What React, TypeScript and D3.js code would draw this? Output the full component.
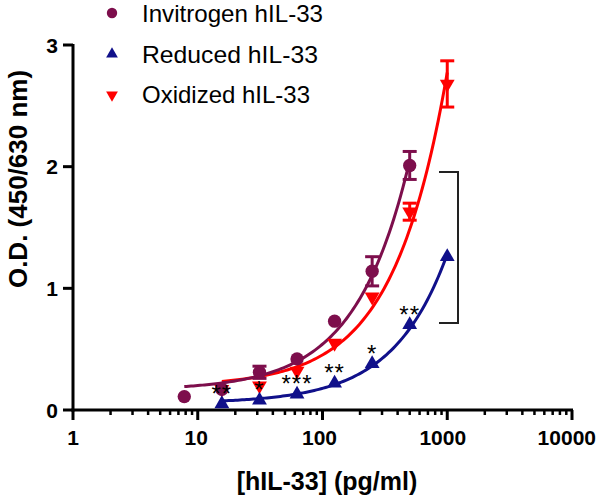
import React from "react";
import * as d3 from "d3";

const W = 598, H = 501;

const invX = [7.8, 15.6, 31.25, 62.5, 125, 250, 500];
const invY = [0.11, 0.17, 0.31, 0.42, 0.73, 1.14, 2.01];
const invErr = [0, 0, 0.05, 0, 0, 0.12, 0.115];

const redX = [15.6, 31.25, 62.5, 125, 250, 500, 1000];
const redY = [0.05, 0.08, 0.13, 0.22, 0.38, 0.70, 1.26];
const redErr = [0, 0, 0, 0, 0, 0, 0];

const oxX = [15.6, 31.25, 62.5, 125, 250, 500, 1000];
const oxY = [0.17, 0.20, 0.32, 0.55, 0.93, 1.63, 2.68];
const oxErr = [0, 0, 0, 0, 0, 0.07, 0.19];

const stars = ["**", "*", "***", "**", "*", "**", ""];

const xTicks = [1, 10, 100, 1000, 10000];
const yTicks = [0, 1, 2, 3];

const legendLabels = ["Invitrogen hIL-33", "Reduced hIL-33", "Oxidized hIL-33"];

const C_INV = "#7d0e4c";
const C_RED = "#10108a";
const C_OX = "#ff0000";

function fit(xs: number[], ys: number[]) {
  const n = xs.length;
  const mx = d3.mean(xs)!, my = d3.mean(ys)!;
  let sxy = 0, sxx = 0;
  for (let i = 0; i < n; i++) {
    sxy += (xs[i] - mx) * (ys[i] - my);
    sxx += (xs[i] - mx) ** 2;
  }
  const b = sxy / sxx;
  const a = my - b * mx;
  return (x: number) => a + b * x;
}

export default function App() {
  const x = d3.scaleLog().domain([1, 10000]).range([73, 572]);
  const y = d3.scaleLinear().domain([0, 3]).range([410, 45]);
  const font = "Arial, 'Liberation Sans', sans-serif";

  const curve = (xs: number[], ys: number[]) => {
    const f = fit(xs, ys);
    const l0 = Math.log10(xs[0]), l1 = Math.log10(xs[xs.length - 1]);
    const pts = d3.range(0, 101).map((i) => {
      const xv = Math.pow(10, l0 + ((l1 - l0) * i) / 100);
      return [x(xv), y(f(xv))] as [number, number];
    });
    return d3.line()(pts) as string;
  };

  const circ = d3.symbol().type(d3.symbolCircle).size(140)()!;
  const tri = d3.symbol().type(d3.symbolTriangle).size(95)()!;
  const circL = d3.symbol().type(d3.symbolCircle).size(85)()!;
  const triL = d3.symbol().type(d3.symbolTriangle).size(60)()!;

  const minor: number[] = [];
  for (let dec = 1; dec < 10000; dec *= 10)
    for (let k = 2; k <= 9; k++) minor.push(dec * k);

  const errBars = (xs: number[], ys: number[], es: number[], color: string) =>
    xs.map((xv, i) =>
      es[i] > 0 ? (
        <g key={i} stroke={color} strokeWidth={3}>
          <line x1={x(xv)} x2={x(xv)} y1={y(ys[i] - es[i])} y2={y(ys[i] + es[i])} />
          <line x1={x(xv) - 7} x2={x(xv) + 7} y1={y(ys[i] + es[i])} y2={y(ys[i] + es[i])} />
          <line x1={x(xv) - 7} x2={x(xv) + 7} y1={y(ys[i] - es[i])} y2={y(ys[i] - es[i])} />
        </g>
      ) : null
    );

  const legendWidths = [181, 176, 168];
  const legendSym = [
    { d: circL, c: C_INV, rot: 0 },
    { d: triL, c: C_RED, rot: 0 },
    { d: triL, c: C_OX, rot: 180 },
  ];

  return (
    <svg width={W} height={H} style={{ position: "absolute", left: 0, top: 0, background: "#fff" }}>
      {/* axes */}
      <g stroke="#000" strokeWidth={3} fill="none">
        <line x1={73} x2={73} y1={44} y2={411.5} />
        <line x1={71.5} x2={573} y1={410} y2={410} />
        {yTicks.map((t) => (
          <line key={t} x1={63} x2={73} y1={y(t)} y2={y(t)} />
        ))}
        {xTicks.map((t) => (
          <line key={t} x1={x(t)} x2={x(t)} y1={410} y2={420} />
        ))}
        {minor.map((t) => (
          <line key={t} x1={x(t)} x2={x(t)} y1={410} y2={415} strokeWidth={2.5} />
        ))}
      </g>
      <g fontFamily={font} fontWeight="bold" fontSize={21} fill="#000">
        {yTicks.map((t) => (
          <text key={t} x={58} y={y(t) + 7.5} textAnchor="end">{t}</text>
        ))}
        {xTicks.map((t) =>
          t === 10000 ? (
            <text key={t} x={596} y={445} textAnchor="end">{t}</text>
          ) : (
            <text key={t} x={x(t) - (String(t).length - 1) * 1.5} y={445} textAnchor="middle">
              {t}
            </text>
          )
        )}
      </g>
      <text x={327} y={490} textAnchor="middle" fontFamily={font} fontWeight="bold" fontSize={25}>
        [hIL-33] (pg/ml)
      </text>
      <text
        transform="translate(27,179) rotate(-90)"
        textAnchor="middle"
        fontFamily={font}
        fontWeight="bold"
        fontSize={26}
      >
        O.D. (450/630 nm)
      </text>

      {/* bracket */}
      <path d="M439,172 H458 V323 H439" fill="none" stroke="#222" strokeWidth={2} />

      {/* curves */}
      <g fill="none" strokeWidth={3}>
        <path d={curve(oxX, oxY)} stroke={C_OX} />
        <path d={curve(invX, invY)} stroke={C_INV} />
        <path d={curve(redX, redY)} stroke={C_RED} />
      </g>

      {errBars(oxX, oxY, oxErr, C_OX)}
      {oxX.map((xv, i) => (
        <path key={"o" + i} d={tri} transform={`translate(${x(xv)},${y(oxY[i])}) rotate(180)`} fill={C_OX} />
      ))}
      {errBars(invX, invY, invErr, C_INV)}
      {invX.map((xv, i) => (
        <path key={"i" + i} d={circ} transform={`translate(${x(xv)},${y(invY[i])})`} fill={C_INV} />
      ))}
      {errBars(redX, redY, redErr, C_RED)}
      {redX.map((xv, i) => (
        <path key={"r" + i} d={tri} transform={`translate(${x(xv)},${y(redY[i])})`} fill={C_RED} />
      ))}

      {/* significance stars */}
      <g fontFamily={font} fontSize={24} fill="#000" textAnchor="middle">
        {redX.map((xv, i) =>
          stars[i] ? (
            <text key={i} x={x(xv)} y={y(redY[i]) - 2} letterSpacing={1}>
              {stars[i]}
            </text>
          ) : null
        )}
      </g>

      {/* legend */}
      <g fontFamily={font} fontSize={24} fill="#000">
        {legendLabels.map((lab, i) => (
          <g key={lab}>
            <path
              d={legendSym[i].d}
              transform={`translate(112,${13 + i * 41}) rotate(${legendSym[i].rot})`}
              fill={legendSym[i].c}
            />
            <text x={142} y={22 + i * 40.5} textLength={legendWidths[i]} lengthAdjust="spacingAndGlyphs">
              {lab}
            </text>
          </g>
        ))}
      </g>
    </svg>
  );
}
